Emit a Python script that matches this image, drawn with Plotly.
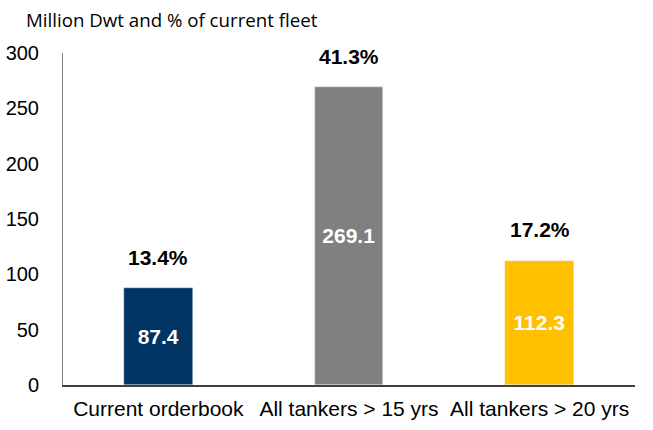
import plotly.graph_objects as go

categories = ["Current orderbook", "All tankers > 15 yrs", "All tankers > 20 yrs"]
values = [87.4, 269.1, 112.3]
pct_labels = ["13.4%", "41.3%", "17.2%"]
colors = ["#003462", "#808080", "#FFC000"]

fig = go.Figure()
fig.add_trace(go.Bar(
    x=categories, y=values, marker_color=colors, width=0.36,
    text=[f"{v:.1f}" for v in values], textposition="inside",
    insidetextanchor="middle",
    textfont=dict(family="Liberation Sans, Arial", size=21, color="white", weight="bold"),
    textangle=0, hoverinfo="skip",
))

for c, v, p in zip(categories, values, pct_labels):
    fig.add_annotation(x=c, y=v, text=f"<b>{p}</b>", showarrow=False,
                       yanchor="middle", yshift=31,
                       font=dict(family="Liberation Sans, Arial", size=21, color="black"))

fig.add_annotation(xref="paper", yref="paper", x=-0.068, y=1.0, yshift=34,
                   xanchor="left", yanchor="middle", showarrow=False,
                   text="Million Dwt and % of current fleet",
                   font=dict(family="Open Sans, Noto Sans", size=18.7, color="black"))

fig.update_layout(
    width=653, height=430,
    margin=dict(l=63, r=18, t=53, b=45),
    plot_bgcolor="white", paper_bgcolor="white",
    showlegend=False,
    bargap=0,
    xaxis=dict(showline=True, linecolor="#404040", linewidth=1.5, ticks="",
               ticklabelstandoff=4,
               tickfont=dict(family="Liberation Sans, Arial", size=21, color="black"),
               showgrid=False, automargin=False),
    yaxis=dict(range=[0, 300], dtick=50, showline=True, linecolor="#808080", linewidth=1,
               showgrid=False, zeroline=False, ticks="", ticklabelstandoff=19,
               automargin=False,
               tickfont=dict(family="Liberation Sans, Arial", size=20, color="black")),
)

fig.write_html("out.html", config={"displayModeBar": False},
               post_script="document.body.style.margin='0';document.body.style.overflow='hidden';")
